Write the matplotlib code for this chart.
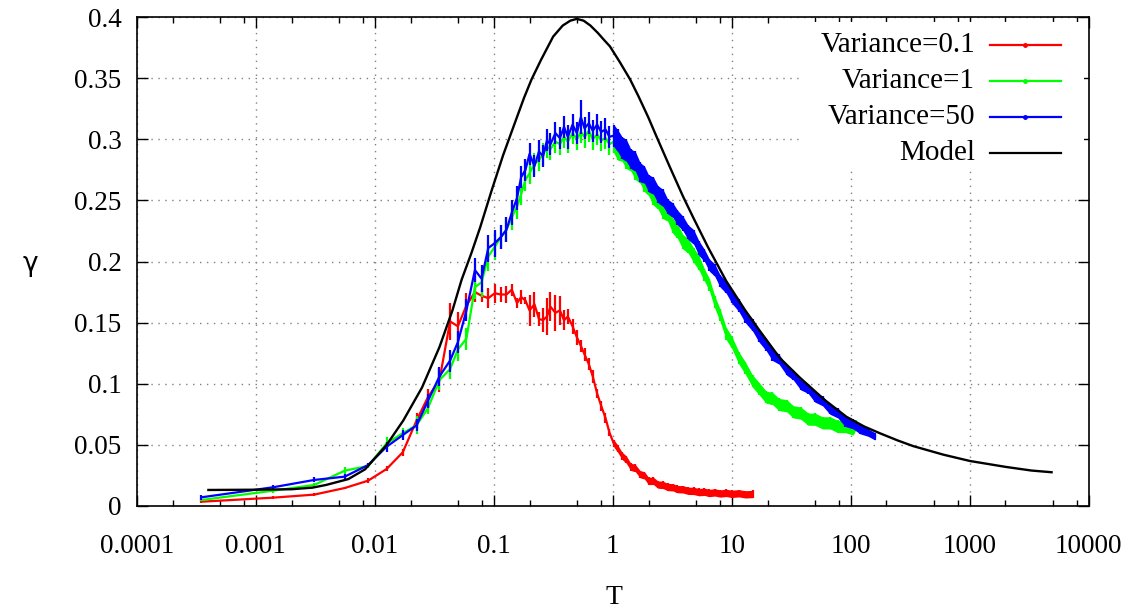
import numpy as np
import matplotlib.pyplot as plt
from matplotlib.ticker import LogLocator, FixedLocator, NullFormatter

# values
t_model = [0.0004, 0.001, 0.002, 0.003, 0.0039, 0.006, 0.0083, 0.0126, 0.0174, 0.025,
           0.035, 0.045, 0.0537, 0.065, 0.077, 0.096, 0.12, 0.154, 0.18, 0.208, 0.25,
           0.316, 0.38, 0.44, 0.5, 0.57, 0.65, 0.75, 0.85, 0.948, 1.15, 1.4, 1.65, 1.99,
           2.34, 3.0, 3.91, 4.75, 6.3, 9.0, 13, 17.3, 25.4, 37.4, 60, 92, 130, 176, 250,
           335, 600, 1005, 2000, 3300, 4880]
g_model = [0.0131, 0.0133, 0.0137, 0.0150, 0.0172, 0.022, 0.030, 0.050, 0.070, 0.097,
           0.130, 0.160, 0.185, 0.207, 0.228, 0.258, 0.287, 0.316, 0.334, 0.349, 0.365,
           0.384, 0.393, 0.397, 0.3985, 0.397, 0.393, 0.387, 0.381, 0.376, 0.363, 0.349,
           0.335, 0.318, 0.302, 0.278, 0.253, 0.236, 0.212, 0.184, 0.160, 0.143, 0.121,
           0.105, 0.087, 0.073, 0.065, 0.0595, 0.0535, 0.0490, 0.042, 0.0368, 0.032,
           0.029, 0.0276]

t_data = [0.00035, 0.0014, 0.0031, 0.0056, 0.0088, 0.0126, 0.0172, 0.0225, 0.028, 0.035,
          0.043, 0.050, 0.059, 0.0695, 0.079, 0.090, 0.102, 0.115, 0.128, 0.142, 0.157,
          0.17, 0.185, 0.2, 0.22, 0.24, 0.26, 0.28, 0.30, 0.33, 0.36, 0.39, 0.42, 0.46,
          0.50, 0.54, 0.58, 0.63, 0.68, 0.74, 0.80, 0.87, 0.94, 1.02, 1.1, 1.2, 1.3, 1.42,
          1.55, 1.7, 1.85, 2.0, 2.2, 2.4, 2.65, 2.9, 3.2, 3.5, 3.9, 4.3, 4.8, 5.3, 5.9,
          6.5, 7.2, 8.0, 9.0, 10, 11.5, 13, 15, 17, 19.5, 22, 25, 29, 33, 38, 44, 50, 58,
          67, 78, 90, 105, 120, 140, 160]

g_var50 = [0.0071, 0.0153, 0.0213, 0.024, 0.0335, 0.0485, 0.058, 0.066, 0.086, 0.106,
           0.119, 0.134, 0.160, 0.193, 0.186, 0.211, 0.215, 0.220, 0.226, 0.240, 0.252,
           0.269, 0.275, 0.288, 0.278, 0.290, 0.286, 0.299, 0.296, 0.305, 0.301, 0.310,
           0.302, 0.312, 0.305, 0.318, 0.309, 0.313, 0.307, 0.312, 0.306, 0.308, 0.302,
           0.303, 0.299, 0.293, 0.291, 0.284, 0.282, 0.273, 0.271, 0.264, 0.262, 0.255,
           0.252, 0.245, 0.242, 0.236, 0.231, 0.224, 0.220, 0.211, 0.205, 0.197, 0.193,
           0.184, 0.179, 0.171, 0.164, 0.155, 0.148, 0.139, 0.132, 0.124, 0.120, 0.111,
           0.107, 0.099, 0.096, 0.089, 0.086, 0.079, 0.076, 0.069, 0.067, 0.063, 0.060,
           0.057]
e_var50 = [0.002, 0.002, 0.002, 0.002, 0.002, 0.004, 0.004, 0.005, 0.006, 0.008,
           0.009, 0.009, 0.009, 0.010, 0.011, 0.011, 0.011, 0.010, 0.010, 0.010, 0.010,
           0.009, 0.009, 0.009, 0.009, 0.009, 0.009, 0.009, 0.009, 0.009, 0.009, 0.009,
           0.010, 0.009, 0.009, 0.014, 0.009, 0.009, 0.009, 0.009, 0.009, 0.009, 0.009,
           0.009, 0.009, 0.009, 0.009, 0.008, 0.008, 0.008, 0.007, 0.007, 0.007, 0.007,
           0.007, 0.006, 0.006, 0.006, 0.006, 0.006, 0.006, 0.006, 0.005, 0.005, 0.005,
           0.005, 0.005, 0.005, 0.005, 0.005, 0.005, 0.005, 0.005, 0.005, 0.004, 0.004,
           0.004, 0.004, 0.004, 0.004, 0.004, 0.004, 0.004, 0.004, 0.004, 0.004, 0.003,
           0.003]

t_var1 = t_data[:-3] + [110]
g_var1 = [0.0049, 0.0125, 0.0172, 0.0289, 0.0327, 0.0513, 0.0595, 0.0662, 0.080, 0.103,
          0.112, 0.128, 0.137, 0.179, 0.183, 0.204, 0.212, 0.220, 0.226, 0.236, 0.245,
          0.255, 0.267, 0.272, 0.280, 0.283, 0.288, 0.294, 0.292, 0.298, 0.296, 0.302,
          0.298, 0.305, 0.300, 0.306, 0.302, 0.307, 0.300, 0.304, 0.299, 0.301, 0.296,
          0.298, 0.291, 0.290, 0.284, 0.282, 0.275, 0.271, 0.264, 0.261, 0.253, 0.250,
          0.242, 0.239, 0.229, 0.225, 0.216, 0.213, 0.205, 0.199, 0.189, 0.181, 0.167,
          0.156, 0.141, 0.134, 0.121, 0.113, 0.102, 0.096, 0.089, 0.088, 0.083, 0.082,
          0.077, 0.076, 0.071, 0.071, 0.068, 0.068, 0.065, 0.065, 0.063, 0.066]
e_var1 = [0.001, 0.002, 0.002, 0.003, 0.002, 0.005, 0.004, 0.007, 0.005, 0.008,
          0.008, 0.009, 0.009, 0.010, 0.012, 0.012, 0.011, 0.010, 0.010, 0.010, 0.010,
          0.009, 0.009, 0.009, 0.009, 0.009, 0.009, 0.009, 0.009, 0.009, 0.009, 0.009,
          0.009, 0.009, 0.009, 0.009, 0.009, 0.009, 0.009, 0.009, 0.009, 0.009, 0.009,
          0.009, 0.008, 0.008, 0.008, 0.008, 0.008, 0.007, 0.007, 0.007, 0.007, 0.007,
          0.007, 0.006, 0.006, 0.006, 0.006, 0.006, 0.006, 0.006, 0.005, 0.005, 0.005,
          0.005, 0.005, 0.005, 0.005, 0.005, 0.005, 0.005, 0.005, 0.005, 0.005, 0.005,
          0.005, 0.005, 0.005, 0.005, 0.005, 0.005, 0.005, 0.005, 0.005, 0.004]

t_var01 = t_data[:71]
g_var01 = [0.0035, 0.0068, 0.0093, 0.0147, 0.0207, 0.0303, 0.0439, 0.070, 0.089, 0.103,
           0.151, 0.147, 0.164, 0.175, 0.172, 0.170, 0.174, 0.173, 0.173, 0.177, 0.166,
           0.171, 0.168, 0.160, 0.165, 0.153, 0.152, 0.155, 0.163, 0.158, 0.160, 0.152,
           0.155, 0.147, 0.138, 0.131, 0.124, 0.116, 0.106, 0.092, 0.082, 0.072, 0.060,
           0.0513, 0.047, 0.041, 0.038, 0.032, 0.031, 0.026, 0.025, 0.0205, 0.0205, 0.0175,
           0.0172, 0.0155, 0.0153, 0.0138, 0.0136, 0.0124, 0.0123, 0.0113, 0.0116, 0.0106,
           0.0111, 0.0102, 0.0107, 0.0099, 0.0104, 0.0095, 0.0098]
e_var01 = [0.001, 0.001, 0.001, 0.001, 0.002, 0.002, 0.003, 0.006, 0.007, 0.010,
           0.015, 0.012, 0.010, 0.008, 0.005, 0.008, 0.008, 0.006, 0.007, 0.005, 0.004,
           0.006, 0.003, 0.013, 0.010, 0.006, 0.010, 0.015, 0.012, 0.015, 0.012, 0.008,
           0.006, 0.006, 0.006, 0.005, 0.005, 0.005, 0.005, 0.004, 0.004, 0.004, 0.003,
           0.003, 0.003, 0.003, 0.003, 0.003, 0.003, 0.003, 0.003, 0.003, 0.003, 0.003,
           0.003, 0.003, 0.003, 0.003, 0.003, 0.003, 0.003, 0.003, 0.003, 0.003, 0.003,
           0.003, 0.003, 0.003, 0.003, 0.003, 0.003]

labels = ['Variance=0.1', 'Variance=1', 'Variance=50', 'Model']
colors = ['#ff0000', '#00ff00', '#0000ff', 'black']

plt.rcParams['font.family'] = 'Liberation Serif'

fig = plt.figure(figsize=(11.32, 6.08), dpi=100)
ax = fig.add_axes([0.1208, 0.1678, 0.8409, 0.8042])


def draw_series(t, g, e, color, z):
    t = np.array(t)
    g = np.array(g)
    e = np.array(e)
    # dense part of the data shows up as a thick ragged band
    dense = t >= 1.0
    ax.fill_between(t[dense], g[dense] - e[dense], g[dense] + e[dense],
                    color=color, lw=0, zorder=z)
    ax.errorbar(t, g, yerr=e, color=color, lw=1.6, elinewidth=1.6, capsize=0, zorder=z)


draw_series(t_var01, g_var01, e_var01, colors[0], 3)
draw_series(t_var1, g_var1, e_var1, colors[1], 4)
draw_series(t_data, g_var50, e_var50, colors[2], 5)
ax.plot(t_model, g_model, color='black', lw=1.7, zorder=6)

ax.set_xscale('log')
ax.set_xlim(1e-4, 1e4)
ax.set_ylim(0, 0.4)
ax.xaxis.set_minor_locator(LogLocator(base=10, subs=[2, 5, 8], numticks=20))
ax.xaxis.set_minor_formatter(NullFormatter())
ax.set_xticks([1e-4, 1e-3, 1e-2, 1e-1, 1, 10, 100, 1000, 10000])
ax.set_xticklabels(['0.0001', '0.001', '0.01', '0.1', '1', '10', '100', '1000', '10000'])
yt = [0, 0.05, 0.1, 0.15, 0.2, 0.25, 0.3, 0.35, 0.4]
ax.yaxis.set_major_locator(FixedLocator(yt))
ax.set_yticklabels(['0', '0.05', '0.1', '0.15', '0.2', '0.25', '0.3', '0.35', '0.4'])

ax.tick_params(which='both', direction='in', top=True, right=True, labelsize=19.5, width=1)
ax.tick_params(which='major', length=8)
ax.tick_params(which='minor', length=4.5)
ax.tick_params(axis='y', pad=11)
ax.tick_params(axis='x', pad=20)
ax.grid(True, which='major', color='#808080', linestyle=(0, (1, 4)), lw=1)
for s in ax.spines.values():
    s.set_linewidth(1.2)

fig.text(614 / 1132, 1 - 597 / 608, 'T', fontsize=20, ha='center', va='center')
fig.text(30 / 1132, 1 - 264 / 608, 'γ', fontsize=19, ha='center', va='center',
         family='DejaVu Sans')

# legend box, gnuplot style: labels right-aligned, samples to the right
ax.add_patch(plt.Rectangle((0.70, 0.69), 0.295, 0.30, transform=ax.transAxes,
                           facecolor='white', edgecolor='none', zorder=7))
for i, (lab, col) in enumerate(zip(labels, colors)):
    yy = 0.9427 - i * 0.0736
    ax.text(0.8807, yy, lab, transform=ax.transAxes, ha='right', va='center',
            fontsize=21, zorder=8)
    ax.plot([0.8963, 0.9710], [yy, yy], transform=ax.transAxes, color=col, lw=1.6,
            zorder=8, clip_on=False)
    if col != 'black':
        ax.plot([0.9336], [yy], transform=ax.transAxes, marker='o', ms=2.5, color=col,
                zorder=8, clip_on=False)

fig.savefig('out.png', dpi=100)
